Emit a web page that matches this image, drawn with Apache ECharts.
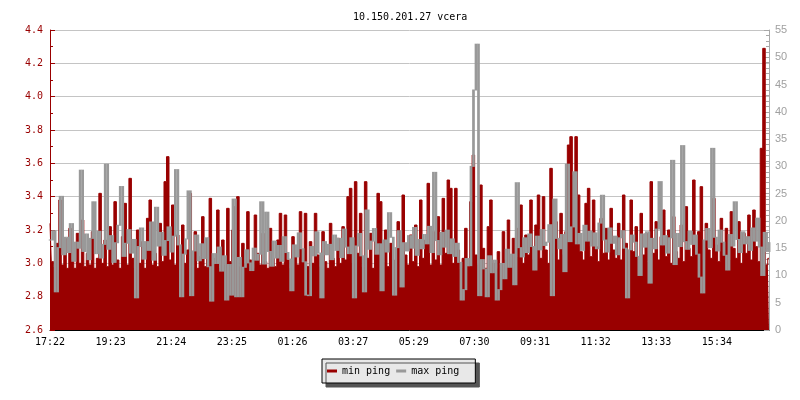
<!DOCTYPE html>
<html>
<head>
<meta charset="utf-8">
<title>10.150.201.27 vcera</title>
<script src="https://cdn.jsdelivr.net/npm/echarts@6/dist/echarts.min.js"></script>
<style>
  html, body { margin: 0; padding: 0; background: #fff; }
  #chart { width: 800px; height: 400px; }
</style>
</head>
<body>
<div id="chart"></div>
<script>
// one sample every 5 minutes, starting 17:22
const SAMPLE_MINUTES = 5;
const TICK_MINUTES = 121;

const timeLabels = ['17:22', '19:23', '21:24', '23:25', '01:26', '03:27',
  '05:29', '07:30', '09:31', '11:32', '13:33', '15:34'];

// min ping, ms (left axis)
const minPing = [
  3.24, 3.01, 2.98, 3.12, 3.38, 2.99, 3.15, 2.97, 3.21, 3.02, 2.97, 3.18,
  3.00, 3.26, 2.98, 3.06, 2.99, 3.19, 2.97, 3.03, 3.42, 3.00, 3.14, 2.98,
  3.22, 2.99, 3.37, 3.02, 2.97, 3.16, 3.36, 2.99, 3.51, 3.03, 2.97, 3.20,
  3.00, 3.13, 2.97, 3.27, 3.38, 2.99, 3.06, 2.98, 3.24, 3.01, 3.49, 3.64,
  3.02, 3.35, 2.99, 3.17, 2.97, 3.23, 3.00, 3.08, 3.42, 2.98, 3.19, 2.97,
  3.04, 3.28, 2.98, 3.15, 3.39, 2.99, 3.03, 3.32, 2.97, 3.14, 2.99, 3.33,
  3.01, 3.20, 3.34, 3.40, 2.98, 3.12, 3.00, 3.31, 3.02, 2.97, 3.29, 3.06,
  2.99, 3.18, 3.01, 2.97, 3.21, 3.03, 2.98, 3.14, 3.30, 2.99, 3.29, 3.02,
  2.97, 3.16, 3.04, 2.99, 3.31, 3.01, 3.30, 2.98, 3.13, 3.00, 3.30, 3.05,
  2.98, 3.19, 3.01, 2.97, 3.24, 3.03, 2.98, 3.15, 3.00, 3.22, 3.02, 3.40,
  3.45, 3.00, 3.49, 3.06, 3.30, 2.98, 3.49, 3.03, 3.18, 2.97, 3.13, 3.42,
  3.37, 3.01, 3.20, 2.98, 3.12, 3.02, 2.97, 3.25, 3.00, 3.41, 3.05, 2.99,
  3.17, 3.01, 3.23, 2.98, 3.38, 3.03, 3.14, 3.48, 2.99, 3.19, 3.02, 3.28,
  2.99, 3.39, 3.06, 3.50, 3.45, 3.00, 3.45, 3.08, 2.97, 3.03, 3.21, 2.98,
  3.37, 3.65, 3.05, 2.99, 3.47, 3.09, 2.97, 3.22, 3.38, 3.00, 2.97, 3.07,
  2.99, 3.19, 3.02, 3.26, 2.98, 3.15, 3.04, 3.21, 3.35, 3.00, 3.17, 3.05,
  3.38, 3.02, 3.23, 3.41, 3.03, 3.40, 3.08, 3.00, 3.57, 3.06, 3.25, 3.02,
  3.30, 3.05, 3.19, 3.71, 3.76, 3.53, 3.76, 3.41, 3.07, 3.02, 3.36, 3.45,
  3.04, 3.38, 3.10, 3.01, 3.27, 3.06, 3.21, 3.02, 3.33, 3.08, 3.03, 3.24,
  3.02, 3.41, 3.12, 3.00, 3.38, 3.07, 3.22, 3.03, 3.30, 3.05, 3.18, 3.01,
  3.49, 3.06, 3.25, 3.02, 3.16, 3.32, 3.04, 3.20, 3.00, 3.28, 3.07, 3.03,
  3.23, 3.01, 3.34, 3.09, 3.04, 3.50, 3.06, 3.19, 3.46, 3.02, 3.24, 3.08,
  3.03, 3.39, 3.11, 3.01, 3.27, 3.05, 3.21, 3.02, 3.31, 3.09, 3.03, 3.25,
  3.00, 3.18, 3.06, 3.29, 3.02, 3.32, 3.10, 3.01, 3.69, 4.29, 2.99, 3.03
];

// max ping, ms (right axis)
const maxPing = [
  16.5, 18.2, 7.0, 15.1, 24.5, 13.8, 17.0, 14.2, 19.5, 12.6, 16.1, 15.0,
  29.3, 14.4, 17.6, 12.9, 16.8, 23.5, 14.0, 18.1, 13.2, 15.7, 30.4, 14.8,
  17.3, 12.4, 16.0, 19.2, 26.3, 13.5, 15.9, 18.4, 14.1, 16.6, 5.9, 15.3,
  18.7, 13.0, 16.2, 14.6, 19.8, 12.8, 22.5, 15.4, 17.9, 13.7, 16.4, 18.9,
  14.3, 17.2, 29.4, 15.6, 6.1, 13.9, 16.7, 25.5, 6.3, 14.5, 17.4, 12.7,
  15.8, 13.1, 16.9, 11.6, 5.3, 14.0, 12.2, 15.2, 10.8, 13.6, 5.5, 12.0,
  6.4, 24.0, 6.1, 13.3, 6.1, 11.5, 14.7, 12.3, 10.9, 15.0, 12.8, 13.9,
  23.5, 12.1, 21.6, 14.4, 11.7, 16.3, 13.2, 15.5, 12.6, 17.1, 14.2, 13.0,
  7.2, 15.6, 13.4, 17.8, 14.9, 12.5, 6.4, 6.3, 15.3, 13.6, 18.0, 14.1,
  5.9, 16.2, 13.8, 15.7, 12.9, 17.4, 14.6, 16.8, 13.3, 18.5, 15.2, 14.0,
  16.9, 5.9, 15.4, 17.7, 13.6, 7.0, 22.0, 14.8, 16.3, 18.6, 13.9, 15.8,
  7.2, 16.5, 14.3, 21.5, 17.0, 6.4, 15.1, 18.2, 7.9, 16.0, 14.5, 17.3,
  15.0, 18.8, 13.7, 16.6, 14.9, 17.5, 15.8, 19.0, 14.2, 28.9, 16.4, 13.8,
  17.9, 15.2, 18.3, 14.0, 16.7, 13.5, 15.9, 12.4, 5.5, 7.4, 13.1, 11.8,
  30.0, 44.0, 52.4, 6.3, 12.9, 11.2, 6.1, 13.6, 10.5, 12.8, 5.5, 7.4,
  12.2, 9.4, 14.8, 11.5, 13.9, 8.3, 27.0, 15.1, 13.4, 16.9, 14.2, 17.6,
  15.3, 11.0, 17.2, 14.7, 18.4, 15.5, 16.1, 19.3, 6.3, 24.0, 16.8, 14.9,
  17.5, 10.7, 30.4, 16.2, 18.9, 29.0, 15.8, 17.7, 14.6, 19.2, 16.3, 18.1,
  15.4, 17.8, 14.9, 19.6, 24.7, 16.5, 14.3, 18.7, 15.9, 17.2, 13.8, 16.9,
  18.2, 15.0, 5.9, 14.7, 17.4, 16.1, 13.5, 10.0, 17.6, 15.2, 18.0, 8.6,
  16.8, 14.9, 18.5, 27.2, 15.6, 17.3, 14.1, 16.9, 31.1, 12.0, 17.7, 15.3,
  33.8, 16.2, 14.8, 18.1, 15.7, 17.4, 13.9, 9.7, 6.8, 16.5, 18.6, 15.1,
  33.3, 17.0, 14.5, 18.3, 16.1, 13.7, 11.0, 17.5, 15.4, 23.5, 16.6, 14.2,
  18.0, 15.8, 17.1, 14.6, 18.7, 16.3, 20.5, 15.2, 10.0, 17.9, 14.4, 16.0
];

const RED = '#990000';
const GREY = '#999999';
const MONO = 'DejaVu Sans Mono';

const chart = echarts.init(document.getElementById('chart'));

const toPoints = values => values.map((v, i) => [i * SAMPLE_MINUTES, v]);

// the max line is drawn like a 1px rrd line: each sample column covers
// the span from the previous value to its own value
const maxSpans = maxPing.map((v, i) => [i * SAMPLE_MINUTES, i > 0 ? maxPing[i - 1] : v, v]);

const renderSpan = (params, api) => {
  const x = api.value(0);
  const a = api.value(1);
  const b = api.value(2);
  const top = api.coord([x, Math.max(a, b)]);
  const bottom = api.coord([x, Math.min(a, b)]);
  const w = api.size([SAMPLE_MINUTES, 0])[0];
  return {
    type: 'rect',
    shape: {
      x: top[0] - w / 2,
      y: top[1] - 0.5,
      width: w + 0.2,
      height: Math.max(bottom[1] - top[1], 0) + 1,
    },
    style: { fill: GREY },
  };
};

const options = {
  animation: false,
  backgroundColor: '#fff',
  title: {
    text: '10.150.201.27 vcera',
    left: 348,
    top: 7,
    textStyle: { fontFamily: MONO, fontSize: 10, fontWeight: 'normal', color: '#000' },
  },
  legend: {
    left: 322,
    top: 359,
    icon: 'rect',
    itemWidth: 10,
    itemHeight: 3,
    itemGap: 6,
    padding: [7, 16, 7, 5],
    backgroundColor: '#e8e8e8',
    borderColor: '#000',
    borderWidth: 1,
    shadowColor: '#555',
    shadowOffsetX: 4,
    shadowOffsetY: 4,
    shadowBlur: 0,
    textStyle: { fontFamily: MONO, fontSize: 10, color: '#000' },
    data: [
      { name: 'min ping', itemStyle: { color: RED } },
      { name: 'max ping', itemStyle: { color: GREY } },
    ],
  },
  grid: { left: 50, right: 31, top: 30, bottom: 70 },
  xAxis: {
    type: 'value',
    min: 0,
    max: 1435,
    interval: TICK_MINUTES,
    axisLine: { lineStyle: { color: '#000', width: 1 } },
    axisTick: { inside: true, length: 5, lineStyle: { color: '#000' } },
    axisLabel: {
      margin: 7,
      fontFamily: MONO,
      fontSize: 10,
      color: '#000',
      showMaxLabel: false,
      formatter: v => (v % TICK_MINUTES === 0 ? timeLabels[v / TICK_MINUTES] || '' : ''),
    },
    splitLine: { show: false },
  },
  yAxis: [
    {
      type: 'value',
      min: 2.6,
      max: 4.4,
      interval: 0.2,
      position: 'left',
      axisLine: { show: true, lineStyle: { color: RED, width: 1 } },
      axisTick: { show: true, inside: true, length: 5, lineStyle: { color: RED } },
      minorTick: { show: true, splitNumber: 2, length: 3, lineStyle: { color: RED } },
      axisLabel: {
        margin: 7,
        fontFamily: MONO,
        fontSize: 10,
        color: RED,
        formatter: v => v.toFixed(1),
      },
      splitLine: { show: true, lineStyle: { color: '#c4c4c4', width: 1 } },
    },
    {
      type: 'value',
      min: 0,
      max: 55,
      interval: 5,
      position: 'right',
      axisLine: { show: true, lineStyle: { color: '#a8a8a8', width: 1 } },
      axisTick: { show: true, inside: true, length: 5, lineStyle: { color: '#a8a8a8' } },
      minorTick: { show: true, splitNumber: 5, length: 3, lineStyle: { color: '#a8a8a8' } },
      axisLabel: {
        margin: 6,
        fontFamily: 'Liberation Sans',
        fontSize: 11,
        color: '#a0a0a0',
      },
      splitLine: { show: false },
    },
  ],
  series: [
    {
      name: 'min ping',
      type: 'line',
      yAxisIndex: 0,
      step: 'middle',
      symbol: 'none',
      z: 2,
      color: RED,
      lineStyle: { color: RED, width: 1 },
      areaStyle: { color: RED, opacity: 1 },
      data: toPoints(minPing),
    },
    {
      name: 'max ping',
      type: 'custom',
      yAxisIndex: 1,
      z: 5,
      color: GREY,
      renderItem: renderSpan,
      encode: { x: 0, y: [1, 2] },
      data: maxSpans,
    },
  ],
};

chart.setOption(options);
</script>
</body>
</html>
